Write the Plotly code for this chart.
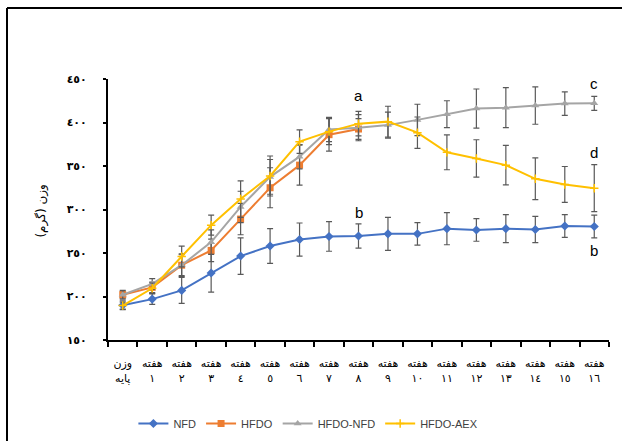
import plotly.graph_objects as go

# ---- data ----
categories = ["وزن<br>پایه"] + ["هفته<br>" + s for s in
    ["١", "٢", "٣", "٤", "٥", "٦", "٧", "٨", "٩", "١٠", "١١", "١٢", "١٣", "١٤", "١٥", "١٦"]]

nfd = [190, 197, 207, 227, 246.5, 258, 265.5, 269, 269.5, 272, 272, 278, 276.5, 278, 277, 281, 280.5]
nfd_err = [5, 6, 15, 22, 21, 20, 19, 17, 14, 19, 13, 18.5, 13, 16, 15, 13, 13]

hfdo = [202, 210.5, 236, 253, 289, 325, 351, 386, 392.5, None, None, None, None, None, None, None, None]
hfdo_err = [4, 6, 12, 13, 18, 23, 23, 19, 12, 0, 0, 0, 0, 0, 0, 0, 0]

hfdo_nfd = [202, 214.5, 236, 262.5, 303, 337.5, 360.7, 392, 394, 397, 403, 409.5, 416, 417, 419.5, 421.8, 422]
hfdo_nfd_err = [5, 6, 13, 14, 18, 20, 14, 14, 15, 15, 18, 15.5, 22.5, 23, 21.5, 13.5, 8]

hfdo_aex = [189.6, 209.5, 246, 282, 312, 338.5, 378, 389.5, 398.7, 401, 388.3, 365.7, 358.7, 351, 335.3, 328.8, 324.5]
hfdo_aex_err = [4, 6, 12, 11.5, 21, 23, 13.5, 15, 14, 17.7, 18, 20, 21.5, 22.7, 24, 20.6, 27]

y_tickvals = [150, 200, 250, 300, 350, 400, 450]
y_ticktext = ["١٥٠", "٢٠٠", "٢٥٠", "٣٠٠", "٣٥٠", "٤٠٠", "٤٥٠"]

letters = [("a", 8, 430.6), ("b", 8, 296), ("c", 16, 444.5), ("d", 16, 365), ("b", 16, 253)]

# ---- figure ----
fig = go.Figure()
err_col = "#595959"

def add(name, y, err, color, symbol, size, mline=None):
    marker = dict(symbol=symbol, size=size, color=color)
    if mline:
        marker["line"] = dict(width=mline, color=color)
    fig.add_trace(go.Scatter(
        x=categories, y=y, name=name, mode="lines+markers",
        line=dict(color=color, width=2),
        marker=marker,
        error_y=dict(type="data", array=err, visible=True, color=err_col,
                     thickness=1.2, width=3),
        connectgaps=False,
    ))

add("NFD", nfd, nfd_err, "#4472C4", "diamond", 7)
add("HFDO", hfdo, hfdo_err, "#ED7D31", "square", 7)
add("HFDO-NFD", hfdo_nfd, hfdo_nfd_err, "#A5A5A5", "triangle-up", 7)
add("HFDO-AEX", hfdo_aex, hfdo_aex_err, "#FFC000", "cross-thin", 6, mline=1.5)

for txt, xi, yv in letters:
    fig.add_annotation(x=categories[xi], y=yv, text=txt, showarrow=False,
                       font=dict(family="Liberation Sans", size=15, color="#000000"))

# y-axis title
fig.add_annotation(xref="paper", yref="paper", x=-0.1517, y=0.494, text="وزن (گرم)",
                   textangle=-90, showarrow=False,
                   font=dict(family="DejaVu Sans", size=12, color="#000000"))

# outer frame
x_left = (7 - 108) / 501
y_top = (340 - 8) / 261
fig.add_shape(type="line", xref="paper", yref="paper", x0=x_left, x1=x_left,
              y0=y_top, y1=-0.45, line=dict(color="#000000", width=2))
fig.add_shape(type="line", xref="paper", yref="paper", x0=x_left, x1=1.1,
              y0=y_top, y1=y_top, line=dict(color="#000000", width=2))

fig.update_layout(
    width=622, height=441,
    margin=dict(l=108, r=13, t=79, b=101, autoexpand=False),
    paper_bgcolor="white", plot_bgcolor="white",
    showlegend=True,
    legend=dict(orientation="h", x=0.4, xanchor="center", y=-0.32, yanchor="middle",
                font=dict(family="Liberation Sans Narrow, Liberation Sans", size=11,
                          color="#404040"),
                itemwidth=30, tracegroupgap=0),
    xaxis=dict(type="category", range=[-0.5, 16.5], tickson="boundaries",
               automargin=False, tickangle=0,
               showline=True, linecolor="#000000", linewidth=2,
               ticks="outside", ticklen=5, tickwidth=2, tickcolor="#000000",
               showgrid=False, zeroline=False,
               tickfont=dict(family="DejaVu Sans", size=11, color="#000000"),
               ticklabelstandoff=12),
    yaxis=dict(range=[150, 450], tickvals=y_tickvals, ticktext=y_ticktext,
               automargin=False,
               showline=True, linecolor="#000000", linewidth=2,
               ticks="outside", ticklen=3, tickwidth=2, tickcolor="#000000",
               showgrid=False, zeroline=False,
               tickfont=dict(family="DejaVu Sans", size=11, color="#000000", weight="bold"),
               ticklabelstandoff=14),
)

fig.write_html("out.html", config={"displayModeBar": False},
               post_script="document.body.style.margin='0';document.body.style.overflow='hidden';")
